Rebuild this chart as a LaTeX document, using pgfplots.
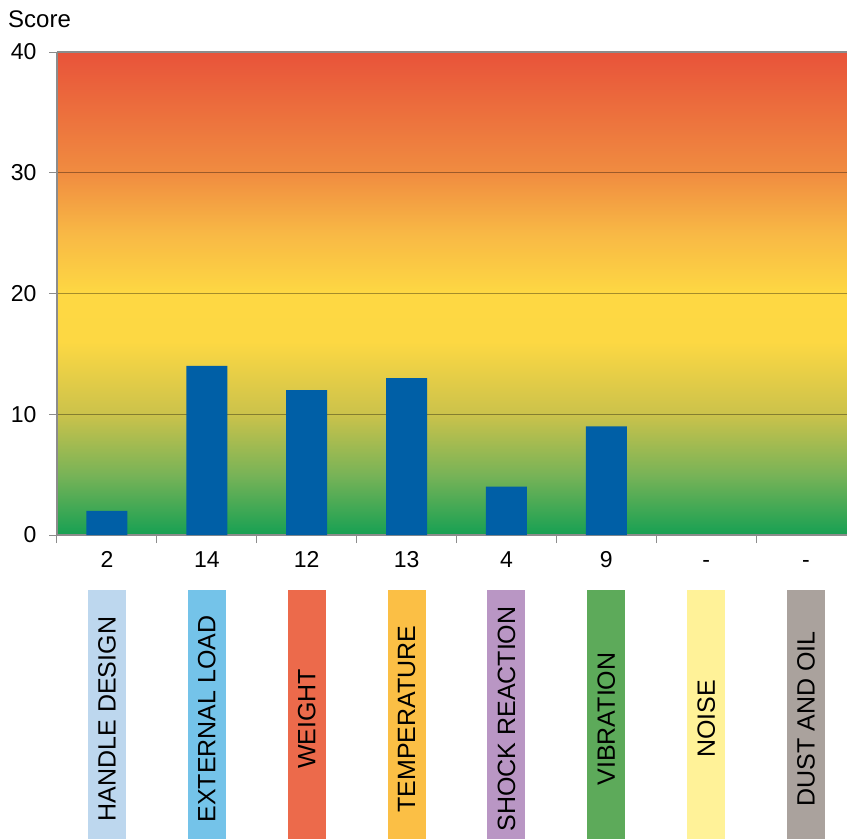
\documentclass[border=0pt]{standalone}
\usepackage{pgfplots}
\pgfplotsset{compat=1.18}
\usepackage{fontspec}
\setmainfont{Liberation Sans}
\definecolor{barblue}{HTML}{005FA6}
\definecolor{gA}{HTML}{16A053}
\definecolor{gB}{HTML}{78B357}
\definecolor{gC}{HTML}{CBC24B}
\definecolor{gD}{HTML}{FDD843}
\definecolor{gE}{HTML}{FED843}
\definecolor{gF}{HTML}{F8B845}
\definecolor{gG}{HTML}{F08C40}
\definecolor{gH}{HTML}{E8533A}
\definecolor{sA}{HTML}{BDD7EE}
\definecolor{sB}{HTML}{74C3E9}
\definecolor{sC}{HTML}{EC6A4B}
\definecolor{sD}{HTML}{FBBF45}
\definecolor{sE}{HTML}{B996C4}
\definecolor{sF}{HTML}{5DAA5A}
\definecolor{sG}{HTML}{FFF298}
\definecolor{sH}{HTML}{AAA29D}
\definecolor{axgray}{HTML}{8C8C8C}
\pgfdeclareverticalshading{bg}{100bp}{color(0bp)=(gA); color(25bp)=(gA); color(31.25bp)=(gB); color(37.5bp)=(gC); color(45bp)=(gD); color(50bp)=(gE); color(56.25bp)=(gF); color(62.5bp)=(gG); color(75bp)=(gH); color(100bp)=(gH)}
\newcommand{\strip}[3]{%
  \fill[#2] ([xshift=-19pt,yshift=-55pt]axis cs:#1,0) rectangle ([xshift=19pt,yshift=-304pt]axis cs:#1,0);
  \node[rotate=90, font=\fontsize{25}{30}\selectfont, text=black] at ([yshift=-184pt]axis cs:#1,0) {#3};}
\begin{document}
\begin{tikzpicture}
\path[use as bounding box] (-57pt,-304pt) rectangle (790pt,535pt);
\begin{axis}[
  at={(0pt,0pt)}, anchor=south west,
  scale only axis, width=799pt, height=483pt,
  xmin=-0.5, xmax=7.5, ymin=0, ymax=40,
  clip=false,
  axis background/.style={shade, shading=bg},
  axis x line*=bottom, axis y line*=left,
  axis line style={axgray, line width=1.6pt},
  ybar, bar width=41pt, bar shift=0pt,
  xtick={0,1,2,3,4,5,6,7},
  xticklabels={2,14,12,13,4,9,-,-},
  minor xtick={-0.5,0.5,1.5,2.5,3.5,4.5,5.5,6.5,7.5},
  major x tick style={draw=none},
  ytick={0,10,20,30,40},
  tick align=outside, major tick length=8pt, minor tick length=8pt,
  tick style={axgray, line width=1pt},
  ymajorgrids, grid style={black, opacity=0.35, line width=1pt},
  tick label style={font=\fontsize{23}{27}\selectfont, text=black},
  /pgf/number format/assume math mode=true,
  yticklabel style={xshift=-9pt},
  xticklabel style={yshift=-4pt, text height=16.5pt, text depth=0pt},
]
\addplot[fill=barblue, draw=none] coordinates {(0,2) (1,14) (2,12) (3,13) (4,4) (5,9)};
\draw[axgray, line width=1.6pt] (rel axis cs:0,1) -- (rel axis cs:1,1);
\node[anchor=base west, font=\fontsize{24}{28}\selectfont, inner sep=0pt] at ([xshift=-49pt,yshift=25pt]rel axis cs:0,1) {Score};
\strip{0}{sA}{HANDLE DESIGN}
\strip{1}{sB}{EXTERNAL LOAD}
\strip{2}{sC}{WEIGHT}
\strip{3}{sD}{TEMPERATURE}
\strip{4}{sE}{SHOCK REACTION}
\strip{5}{sF}{VIBRATION}
\strip{6}{sG}{NOISE}
\strip{7}{sH}{DUST AND OIL}
\end{axis}
\end{tikzpicture}
\end{document}
